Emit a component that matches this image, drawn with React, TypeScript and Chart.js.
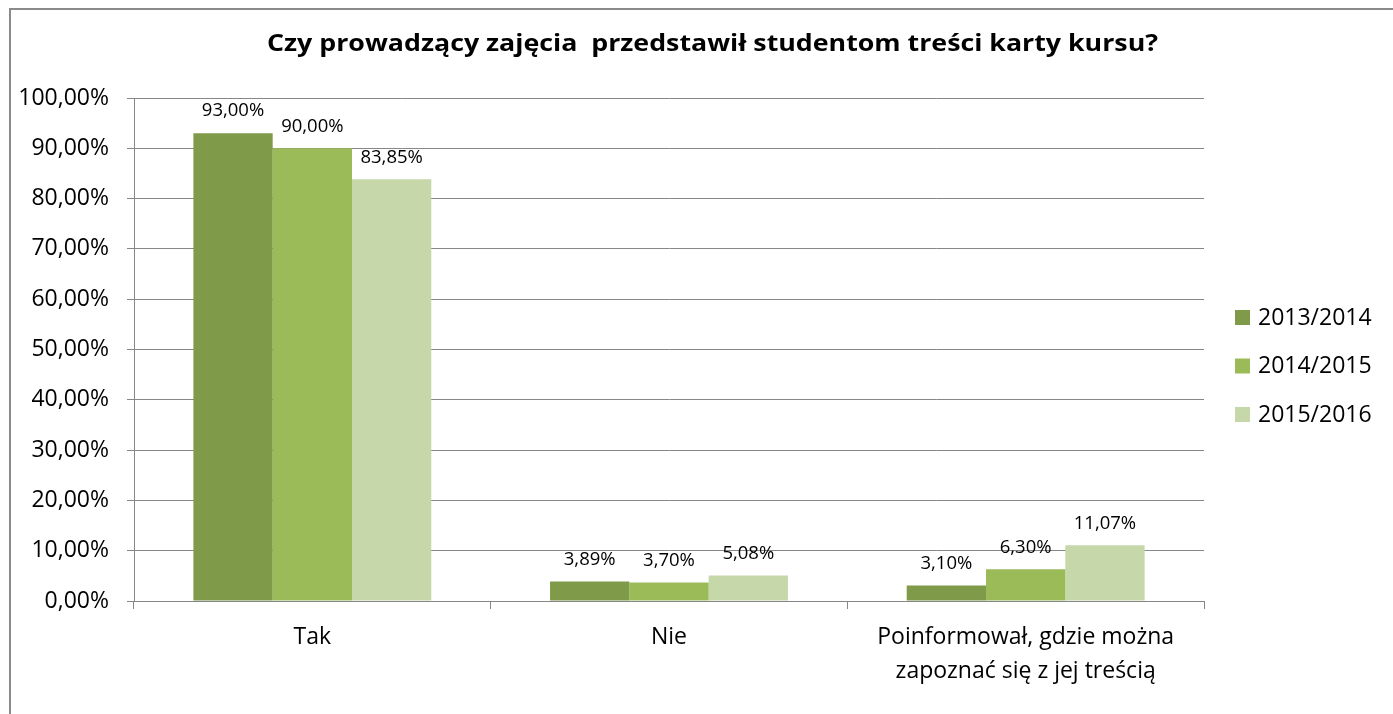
import React, { useEffect, useRef } from 'react';
import { Chart, registerables } from 'chart.js';

Chart.register(...registerables);

const TITLE = 'Czy prowadzący zajęcia  przedstawił studentom treści karty kursu?';
const categories: (string | string[])[] = [
  'Tak',
  'Nie',
  ['Poinformował, gdzie można', 'zapoznać się z jej treścią'],
];
const seriesNames = ['2013/2014', '2014/2015', '2015/2016'];
const values2013 = [93.0, 3.89, 3.1];
const values2014 = [90.0, 3.7, 6.3];
const values2015 = [83.85, 5.08, 11.07];
const yMin = 0;
const yMax = 100;
const yStep = 10;

const colors = ['#7F9A48', '#9BBB59', '#C6D7AA'];
const FONT = '"Open Sans", "Noto Sans", sans-serif';
const GRID = '#878787';

const fmt = (v: number) => v.toFixed(2).replace('.', ',') + '%';

const decorPlugin = {
  id: 'decor',
  beforeDraw(chart: any) {
    const ctx = chart.ctx;
    ctx.save();
    ctx.fillStyle = '#ffffff';
    ctx.fillRect(0, 0, chart.width, chart.height);
    ctx.fillStyle = '#8a8a8a';
    ctx.fillRect(9, 8, chart.width, 2);
    ctx.fillRect(9, 8, 2, chart.height);
    ctx.restore();
  },
  afterDatasetsDraw(chart: any) {
    const ctx = chart.ctx;
    ctx.save();
    ctx.font = `18.5px ${FONT}`;
    ctx.fillStyle = '#000000';
    ctx.textAlign = 'center';
    ctx.textBaseline = 'middle';
    chart.data.datasets.forEach((ds: any, i: number) => {
      const meta = chart.getDatasetMeta(i);
      meta.data.forEach((el: any, j: number) => {
        ctx.fillText(fmt(ds.data[j]), el.x, el.y - 22);
      });
    });
    ctx.restore();
  },
  afterDraw(chart: any) {
    const ctx = chart.ctx;
    ctx.save();
    // title (slightly widened to match the reference proportions)
    ctx.font = `bold 24px ${FONT}`;
    ctx.fillStyle = '#000000';
    ctx.textAlign = 'center';
    ctx.textBaseline = 'alphabetic';
    const w = ctx.measureText(TITLE).width;
    const sx = w > 0 ? 891 / w : 1;
    ctx.translate(712.5, 51);
    ctx.scale(sx, 1);
    ctx.fillText(TITLE, 0, 0);
    ctx.setTransform(1, 0, 0, 1, 0, 0);
    // legend
    ctx.font = `23px ${FONT}`;
    ctx.textAlign = 'left';
    ctx.textBaseline = 'middle';
    chart.data.datasets.forEach((ds: any, i: number) => {
      const cy = 317 + i * 48.5;
      ctx.fillStyle = ds.backgroundColor;
      ctx.fillRect(1235, cy - 7, 15, 15);
      ctx.fillStyle = '#000000';
      ctx.fillText(ds.label, 1258, cy + 1);
    });
    ctx.restore();
  },
};

export default function App() {
  const ref = useRef<HTMLCanvasElement | null>(null);

  useEffect(() => {
    if (!ref.current) return;
    const series = [values2013, values2014, values2015];
    const chart = new Chart(ref.current, {
      type: 'bar',
      data: {
        labels: categories as any,
        datasets: series.map((vals, i) => ({
          label: seriesNames[i],
          data: vals,
          backgroundColor: colors[i],
          borderWidth: 0,
          categoryPercentage: 0.667,
          barPercentage: 1.0,
        })),
      },
      options: {
        responsive: false,
        animation: false,
        devicePixelRatio: 1,
        layout: { padding: { left: 0, top: 98, right: 189, bottom: 0 } },
        plugins: {
          legend: { display: false },
          title: { display: false },
          tooltip: { enabled: false },
        },
        scales: {
          x: {
            afterFit(scale: any) {
              scale.height = 113;
            },
            grid: {
              display: true,
              drawOnChartArea: false,
              drawTicks: true,
              tickLength: 8,
              color: GRID,
              offset: true,
            },
            border: { display: true, color: GRID, width: 1 },
            ticks: {
              color: '#000000',
              padding: 11,
              maxRotation: 0,
              autoSkip: false,
              font: { family: FONT, size: 23, lineHeight: 1.48 },
            },
          },
          y: {
            min: yMin,
            max: yMax,
            afterFit(scale: any) {
              scale.width = 134;
            },
            grid: {
              color: GRID,
              lineWidth: 1,
              drawTicks: true,
              tickLength: 7,
            },
            border: { display: true, color: GRID, width: 1 },
            ticks: {
              stepSize: yStep,
              color: '#000000',
              padding: 18,
              font: { family: FONT, size: 23 },
              callback: (v: any) => fmt(Number(v)),
            },
          },
        },
      },
      plugins: [decorPlugin],
    });
    return () => chart.destroy();
  }, []);

  return (
    <canvas
      ref={ref}
      width={1393}
      height={714}
      style={{ position: 'fixed', left: 0, top: 0, display: 'block' }}
    />
  );
}
